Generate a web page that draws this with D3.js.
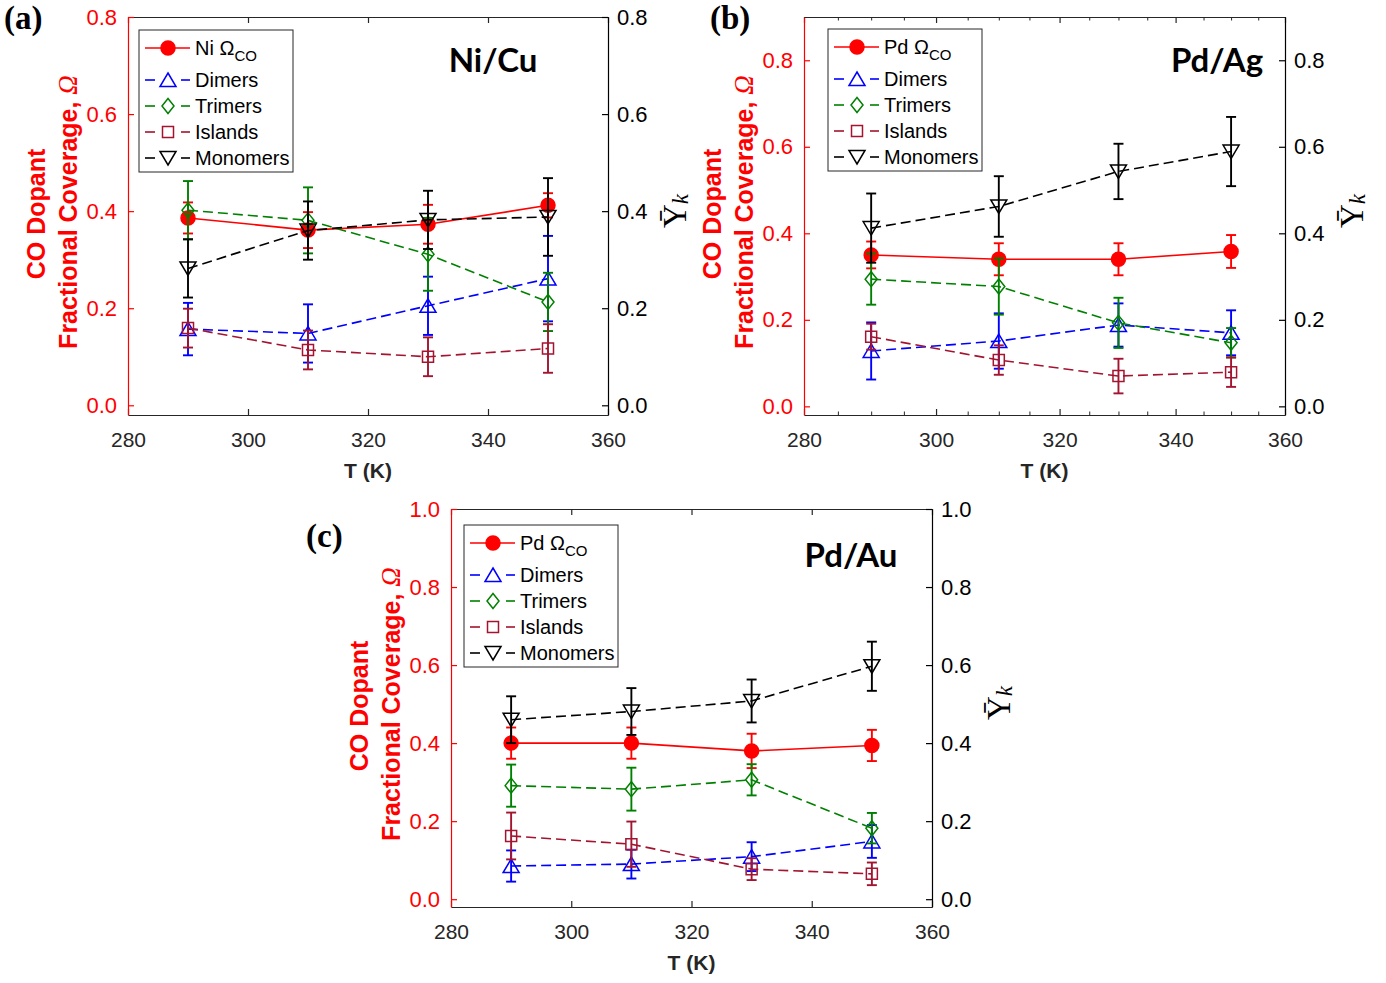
<!DOCTYPE html>
<html>
<head>
<meta charset="utf-8">
<script src="https://cdn.jsdelivr.net/npm/d3@7"></script>
<style>
  body { margin: 0; background: #fff; }
  svg { display: block; }
</style>
</head>
<body>
<svg id="svg"></svg>
<script>
// shared values
const temps = [290, 310, 330, 350];
const xTicks = [280, 300, 320, 340, 360];
const xMinorTicksB = [285, 290, 295, 305, 310, 315, 325, 330, 335, 345, 350, 355];
const yTicks08 = [0, 0.2, 0.4, 0.6, 0.8];
const yTicks10 = [0, 0.2, 0.4, 0.6, 0.8, 1.0];
const seriesNames = ["Dimers", "Trimers", "Islands", "Monomers"];

// (a) Ni/Cu
const niCuOmega = [0.386, 0.361, 0.373, 0.412];
const niCuOmegaErr = [0.032, 0.037, 0.040, 0.025];
const niCuDimers = [0.157, 0.148, 0.205, 0.261];
const niCuDimersErr = [0.054, 0.060, 0.060, 0.088];
const niCuTrimers = [0.402, 0.381, 0.311, 0.213];
const niCuTrimersErr = [0.060, 0.068, 0.075, 0.060];
const niCuIslands = [0.159, 0.114, 0.100, 0.117];
const niCuIslandsErr = [0.040, 0.040, 0.040, 0.050];
const niCuMonomers = [0.282, 0.360, 0.382, 0.388];
const niCuMonomersErr = [0.060, 0.060, 0.060, 0.080];

// (b) Pd/Ag
const pdAgOmega = [0.350, 0.340, 0.340, 0.358];
const pdAgOmegaErr = [0.031, 0.037, 0.037, 0.038];
const pdAgDimers = [0.128, 0.151, 0.188, 0.170];
const pdAgDimersErr = [0.066, 0.064, 0.050, 0.052];
const pdAgTrimers = [0.294, 0.277, 0.193, 0.147];
const pdAgTrimersErr = [0.059, 0.065, 0.058, 0.034];
const pdAgIslands = [0.161, 0.107, 0.070, 0.079];
const pdAgIslandsErr = [0.030, 0.034, 0.040, 0.034];
const pdAgMonomers = [0.412, 0.462, 0.543, 0.589];
const pdAgMonomersErr = [0.080, 0.070, 0.064, 0.080];

// (c) Pd/Au
const pdAuOmega = [0.400, 0.400, 0.380, 0.394];
const pdAuOmegaErr = [0.040, 0.040, 0.044, 0.040];
const pdAuDimers = [0.085, 0.090, 0.109, 0.148];
const pdAuDimersErr = [0.040, 0.037, 0.037, 0.042];
const pdAuTrimers = [0.291, 0.282, 0.306, 0.182];
const pdAuTrimersErr = [0.054, 0.055, 0.040, 0.039];
const pdAuIslands = [0.162, 0.141, 0.077, 0.065];
const pdAuIslandsErr = [0.060, 0.058, 0.028, 0.029];
const pdAuMonomers = [0.460, 0.481, 0.508, 0.597];
const pdAuMonomersErr = [0.060, 0.060, 0.055, 0.063];

const width = 1386, height = 983;
const svg = d3.select("#svg").attr("width", width).attr("height", height);

const sansFont = "'Liberation Sans', Arial, sans-serif";
const axisGray = "#262626";

const styles = {
  Omega:    { color: "#ff0000", marker: "circle",  dashed: false },
  Dimers:   { color: "#0000ff", marker: "tri",     dashed: true },
  Trimers:  { color: "#008000", marker: "diamond", dashed: true },
  Islands:  { color: "#a2142f", marker: "square",  dashed: true },
  Monomers: { color: "#000000", marker: "tridown", dashed: true }
};

function markerPath(type) {
  if (type === "circle") return d3.symbol(d3.symbolCircle, Math.PI * 49)();
  if (type === "tri") return "M0,-7L8,6.5L-8,6.5Z";
  if (type === "tridown") return "M0,7L8,-6.5L-8,-6.5Z";
  if (type === "diamond") return "M0,-7.5L6,0L0,7.5L-6,0Z";
  return "M-5.5,-5.5h11v11h-11Z";
}

function styleAxis(g, color, size) {
  g.attr("font-family", sansFont).attr("font-size", size);
  g.select(".domain").attr("stroke", color).attr("stroke-width", 1.2);
  g.selectAll(".tick line").attr("stroke", color).attr("stroke-width", 1.2);
  g.selectAll(".tick text").attr("fill", color);
}

function drawPanel(p) {
  const b = p.box;
  const x = p.logX
    ? d3.scaleLog().domain([280, 360]).range([b.left, b.right])
    : d3.scaleLinear().domain([280, 360]).range([b.left, b.right]);
  const y = d3.scaleLinear().domain([-0.02, p.yMax]).range([b.bottom, b.top]);
  const g = svg.append("g");

  // axes
  const fmt = d3.format(".1f");
  const bottom = g.append("g").attr("transform", `translate(0,${b.bottom})`)
    .call(d3.axisBottom(x).tickValues(xTicks).tickFormat(d3.format("d"))
      .tickSize(-6).tickSizeOuter(0).tickPadding(17));
  styleAxis(bottom, axisGray, 21);
  const top = g.append("g").attr("transform", `translate(0,${b.top})`)
    .call(d3.axisTop(x).tickValues(xTicks).tickFormat("").tickSize(-6).tickSizeOuter(0));
  styleAxis(top, axisGray, 21);
  if (p.logX) {
    g.append("g").attr("transform", `translate(0,${b.bottom})`)
      .call(d3.axisBottom(x).tickValues(xMinorTicksB).tickFormat("").tickSize(-3.5).tickSizeOuter(0))
      .call(a => { a.select(".domain").remove(); a.selectAll("line").attr("stroke", axisGray); });
    g.append("g").attr("transform", `translate(0,${b.top})`)
      .call(d3.axisTop(x).tickValues(xMinorTicksB).tickFormat("").tickSize(-3.5).tickSizeOuter(0))
      .call(a => { a.select(".domain").remove(); a.selectAll("line").attr("stroke", axisGray); });
  }
  const left = g.append("g").attr("transform", `translate(${b.left},0)`)
    .call(d3.axisLeft(y).tickValues(p.yTicks).tickFormat(fmt).tickSize(-6).tickSizeOuter(0).tickPadding(11));
  styleAxis(left, "#ff0000", 22);
  const right = g.append("g").attr("transform", `translate(${b.right},0)`)
    .call(d3.axisRight(y).tickValues(p.yTicks).tickFormat(fmt).tickSize(-6).tickSizeOuter(0).tickPadding(9));
  styleAxis(right, "#000000", 22);

  // axis labels
  const midX = (b.left + b.right) / 2, midY = (b.top + b.bottom) / 2;
  g.append("text").attr("x", midX).attr("y", b.bottom + 63)
    .attr("text-anchor", "middle").attr("font-family", sansFont)
    .attr("font-weight", "bold").attr("font-size", 21).attr("fill", axisGray)
    .text("T (K)");

  const yl = g.append("text").attr("transform", `translate(${b.left - 83},${midY - 2}) rotate(-90)`)
    .attr("text-anchor", "middle").attr("font-family", sansFont)
    .attr("font-weight", "bold").attr("font-size", 25).attr("fill", "#ff0000");
  yl.text("CO Dopant");
  const yl2 = g.append("text").attr("transform", `translate(${b.left - 51},${midY - 4}) rotate(-90)`)
    .attr("text-anchor", "middle").attr("font-family", sansFont)
    .attr("font-weight", "bold").attr("font-size", 25).attr("fill", "#ff0000");
  yl2.append("tspan").text("Fractional Coverage, ");
  yl2.append("tspan").attr("font-family", "'Liberation Serif', serif")
    .attr("font-style", "italic").attr("font-weight", "normal").attr("font-size", 27).text("Ω");

  const yr = g.append("text").attr("transform", `translate(${b.right + 78},${midY - 5}) rotate(-90)`)
    .attr("text-anchor", "middle").attr("font-family", "'Liberation Serif', serif")
    .attr("font-size", 33).attr("fill", "#000");
  yr.append("tspan").text("Ȳ");
  yr.append("tspan").attr("font-style", "italic").attr("font-size", 23).attr("dy", 2).text("k");

  // series: omega first, then the Y_k groups on top
  const all = [{ name: "Omega", values: p.omega, errs: p.omegaErr }]
    .concat(seriesNames.map((n, i) => ({ name: n, values: p.series[i], errs: p.seriesErr[i] })));

  all.forEach(s => {
    const st = styles[s.name];
    const pts = temps.map((t, i) => ({ t, v: s.values[i], e: s.errs[i] }));
    const sg = g.append("g").attr("stroke", st.color).attr("fill", "none");

    sg.append("path")
      .attr("d", d3.line().x(d => x(d.t)).y(d => y(d.v))(pts))
      .attr("stroke-width", 1.6)
      .attr("stroke-dasharray", st.dashed ? "10,5" : null);

    pts.forEach(d => {
      const cx = x(d.t);
      sg.append("line").attr("x1", cx).attr("x2", cx)
        .attr("y1", y(d.v - d.e)).attr("y2", y(d.v + d.e)).attr("stroke-width", 1.9);
      [d.v - d.e, d.v + d.e].forEach(v => {
        sg.append("line").attr("x1", cx - 5).attr("x2", cx + 5)
          .attr("y1", y(v)).attr("y2", y(v)).attr("stroke-width", 1.9);
      });
    });

    sg.selectAll(".mk").data(pts).enter().append("path")
      .attr("transform", d => `translate(${x(d.t)},${y(d.v)})`)
      .attr("d", markerPath(st.marker))
      .attr("fill", st.marker === "circle" ? st.color : "none")
      .attr("stroke-width", 1.5);
  });

  // legend
  const lg = g.append("g").attr("transform", `translate(${p.legend[0]},${p.legend[1]})`);
  lg.append("rect").attr("width", 154).attr("height", 142)
    .attr("fill", "#fff").attr("stroke", axisGray).attr("stroke-width", 1);
  const rowY = [18, 50, 76, 102, 128];
  ["Omega"].concat(seriesNames).forEach((n, i) => {
    const st = styles[n];
    const row = lg.append("g").attr("transform", `translate(0,${rowY[i]})`);
    if (st.dashed) {
      row.append("line").attr("x1", 6).attr("x2", 16).attr("stroke", st.color).attr("stroke-width", 1.6);
      row.append("line").attr("x1", 42).attr("x2", 51).attr("stroke", st.color).attr("stroke-width", 1.6);
    } else {
      row.append("line").attr("x1", 6).attr("x2", 51).attr("stroke", st.color).attr("stroke-width", 1.6);
    }
    row.append("path").attr("transform", "translate(29,0)")
      .attr("d", markerPath(st.marker))
      .attr("fill", st.marker === "circle" ? st.color : "none")
      .attr("stroke", st.color).attr("stroke-width", 1.5);
    const t = row.append("text").attr("x", 56).attr("y", 7)
      .attr("font-family", sansFont).attr("font-size", 20).attr("fill", "#000");
    if (n === "Omega") {
      t.append("tspan").text(p.metal + " Ω");
      t.append("tspan").attr("font-size", 15).attr("dy", 6).text("CO");
    } else {
      t.text(n);
    }
  });

  // panel title and letter
  g.append("text").attr("x", p.titlePos[0]).attr("y", p.titlePos[1])
    .attr("text-anchor", "middle").attr("font-family", "Lato, 'Open Sans', sans-serif")
    .attr("font-weight", "bold").attr("font-size", 33).attr("fill", "#000")
    .text(p.title);
  g.append("text").attr("x", p.letterPos[0]).attr("y", p.letterPos[1])
    .attr("font-family", "'Liberation Serif', 'Times New Roman', serif")
    .attr("font-weight", "bold").attr("font-size", 33).attr("fill", "#000")
    .text(p.letter);
}

drawPanel({
  box: { left: 128, right: 608, top: 17, bottom: 415 }, logX: false,
  yMax: 0.8, yTicks: yTicks08, metal: "Ni",
  omega: niCuOmega, omegaErr: niCuOmegaErr,
  series: [niCuDimers, niCuTrimers, niCuIslands, niCuMonomers],
  seriesErr: [niCuDimersErr, niCuTrimersErr, niCuIslandsErr, niCuMonomersErr],
  legend: [139, 30], title: "Ni/Cu", titlePos: [493, 72], letter: "(a)", letterPos: [4, 29]
});

drawPanel({
  box: { left: 804, right: 1285, top: 17, bottom: 415 }, logX: true,
  yMax: 0.9, yTicks: yTicks08, metal: "Pd",
  omega: pdAgOmega, omegaErr: pdAgOmegaErr,
  series: [pdAgDimers, pdAgTrimers, pdAgIslands, pdAgMonomers],
  seriesErr: [pdAgDimersErr, pdAgTrimersErr, pdAgIslandsErr, pdAgMonomersErr],
  legend: [828, 29], title: "Pd/Ag", titlePos: [1217, 72], letter: "(b)", letterPos: [710, 29]
});

drawPanel({
  box: { left: 451, right: 932, top: 509, bottom: 907 }, logX: false,
  yMax: 1.0, yTicks: yTicks10, metal: "Pd",
  omega: pdAuOmega, omegaErr: pdAuOmegaErr,
  series: [pdAuDimers, pdAuTrimers, pdAuIslands, pdAuMonomers],
  seriesErr: [pdAuDimersErr, pdAuTrimersErr, pdAuIslandsErr, pdAuMonomersErr],
  legend: [464, 525], title: "Pd/Au", titlePos: [851, 567], letter: "(c)", letterPos: [306, 547]
});
</script>
</body>
</html>
